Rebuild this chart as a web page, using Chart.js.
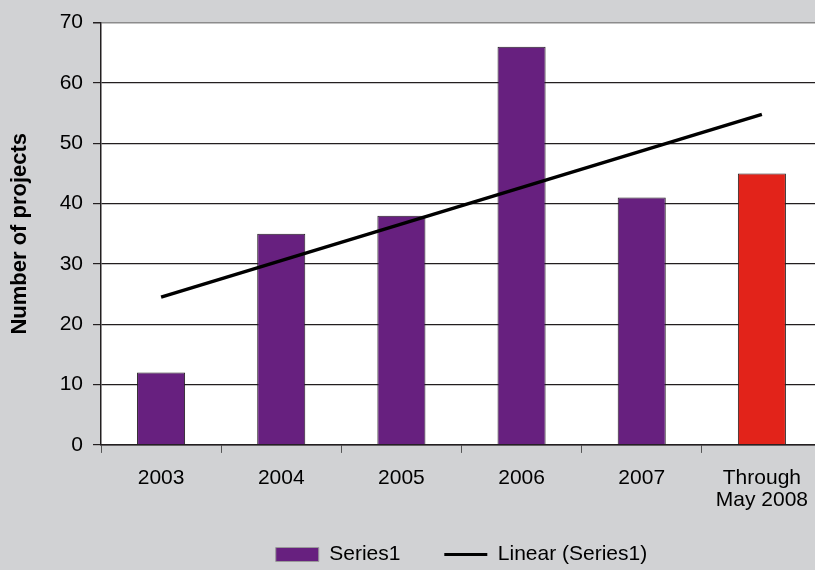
<!DOCTYPE html>
<html>
<head>
<meta charset="utf-8">
<script src="https://cdn.jsdelivr.net/npm/chart.js@4"></script>
<style>
  html, body { margin: 0; padding: 0; background: #d1d2d4; overflow: hidden; }
  #wrap { width: 822px; height: 575px; }
</style>
</head>
<body>
<div id="wrap"><canvas id="chartProyectos"></canvas></div>
<script>
// datos
const categorias = ['2003', '2004', '2005', '2006', '2007', ['Through', 'May 2008']];
const proyectos = [12, 35, 38, 66, 41, 45];
const coloresBarras = ['#67207f', '#67207f', '#67207f', '#67207f', '#67207f', '#e2231a'];
// tendencia lineal (solo extremos)
const tendencia = [24.5, null, null, null, null, 54.8];
const ticksY = [0, 10, 20, 30, 40, 50, 60, 70];

const fuente = "'Liberation Sans', Arial, sans-serif";

// fondo blanco del area de trazado
const fondoArea = {
  id: 'fondoArea',
  beforeDraw(chart) {
    const { ctx, chartArea: a } = chart;
    ctx.save();
    ctx.fillStyle = '#ffffff';
    ctx.fillRect(a.left, a.top, a.right - a.left, a.bottom - a.top);
    ctx.restore();
  }
};

new Chart(document.getElementById('chartProyectos').getContext('2d'), {
  type: 'bar',
  data: {
    labels: categorias,
    datasets: [
      {
        type: 'line', label: 'Linear (Series1)', data: tendencia,
        borderColor: '#000000', borderWidth: 3.5, pointRadius: 0, spanGaps: true,
        fill: false, tension: 0, order: 0
      },
      {
        label: 'Series1', data: proyectos,
        backgroundColor: coloresBarras, borderColor: '#231f20', borderWidth: 1,
        categoryPercentage: 1, barPercentage: 0.4, order: 1
      }
    ]
  },
  options: {
    responsive: true, maintainAspectRatio: false, animation: false,
    layout: { padding: { top: 20, left: 0, right: 0, bottom: 0 } },
    plugins: {
      tooltip: { enabled: false },
      legend: {
        position: 'bottom', fullSize: false,
        labels: {
          color: '#000', font: { family: fuente, size: 21 },
          usePointStyle: true, pointStyleWidth: 43, boxWidth: 43, boxHeight: 14, padding: 3,
          generateLabels: () => [
            { text: 'Series1       ', pointStyle: 'rect', fillStyle: '#67207f', strokeStyle: '#999', lineWidth: 1, datasetIndex: 1 },
            { text: 'Linear (Series1)', pointStyle: 'line', fillStyle: '#000', strokeStyle: '#000', lineWidth: 3, datasetIndex: 0 }
          ]
        }
      }
    },
    scales: {
      x: {
        offset: true,
        afterFit: s => { s.height += 16; },
        grid: { offset: true, drawOnChartArea: false, tickLength: 8, tickColor: '#555' },
        border: { color: '#231f20', width: 1.5 },
        ticks: { color: '#000', font: { family: fuente, size: 21, lineHeight: 1.05 }, padding: 14, maxRotation: 0 }
      },
      y: {
        min: 0, max: 70,
        afterBuildTicks: s => { s.ticks = ticksY.map(v => ({ value: v })); },
        afterFit: s => { s.width = 101; },
        grid: {
          color: c => c.tick && c.tick.value === 70 ? '#8c8c8c' : '#231f20',
          lineWidth: c => c.tick && c.tick.value === 70 ? 1.5 : 1.2,
          tickLength: 8, tickColor: '#231f20'
        },
        border: { color: '#231f20', width: 1.5 },
        ticks: { color: '#000', font: { family: fuente, size: 21 }, padding: 10 },
        title: {
          display: true, text: 'Number of projects', color: '#000',
          font: { family: fuente, size: 22, weight: 'bold' }, padding: { top: 7, bottom: 0 }
        }
      }
    }
  },
  plugins: [fondoArea]
});
</script>
</body>
</html>
